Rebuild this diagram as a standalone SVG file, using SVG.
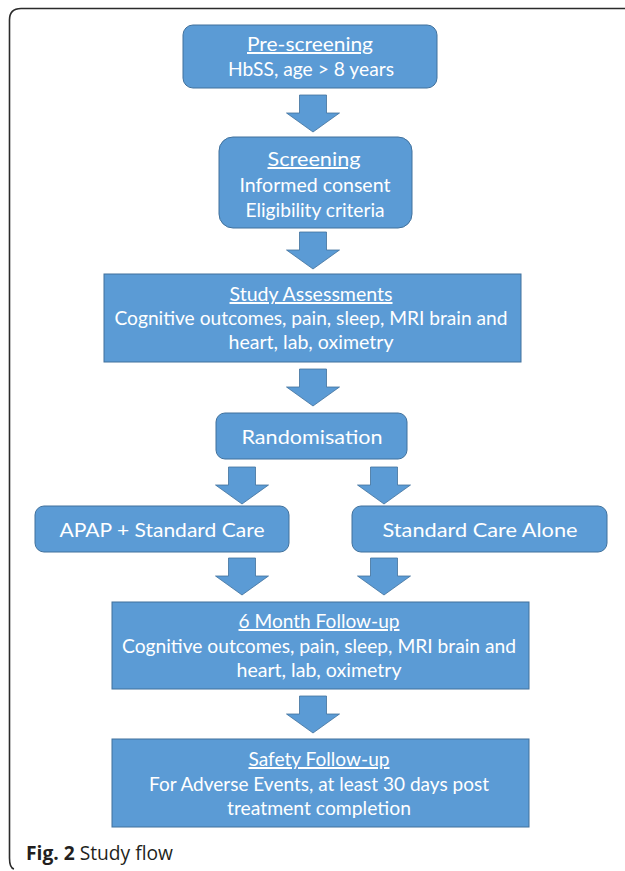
<svg xmlns="http://www.w3.org/2000/svg" width="625" height="871" viewBox="0 0 625 871">
<defs>
<style>
.box{fill:#5B9BD5;stroke:#41719C;stroke-width:1}
.arr{fill:#5B9BD5;stroke:#41719C;stroke-width:0.8}
.t{font-family:Lato,"Open Sans","Liberation Sans",sans-serif;font-size:20px;fill:#fff;text-anchor:middle}
.u{text-decoration:underline}
.cap{font-family:"Open Sans","Liberation Sans",sans-serif;font-size:19.5px;fill:#231f20}
</style>
<path id="a" d="M-13.5,0 H13.5 V18 H26.5 L0,37 L-26.5,18 H-13.5 Z"/>
</defs>
<rect width="625" height="871" fill="#fff"/>
<path d="M625,8.5 H21 Q9.5,8.5 9.5,20 V858 Q9.5,868 14,869" fill="none" stroke="#2b2b2b" stroke-width="1.6"/>
<g id="connectors">
<use href="#a" class="arr" x="313" y="95"/>
<use href="#a" class="arr" x="313" y="232"/>
<use href="#a" class="arr" x="313" y="369"/>
<use href="#a" class="arr" x="242" y="467"/>
<use href="#a" class="arr" x="384" y="467"/>
<use href="#a" class="arr" x="242" y="558"/>
<use href="#a" class="arr" x="384" y="558"/>
<use href="#a" class="arr" x="313" y="696"/>
</g>
<g id="prescreening">
<rect class="box" x="183" y="25" width="254" height="63" rx="10"/>
<text class="t u" x="310" y="51" textLength="126" lengthAdjust="spacingAndGlyphs">Pre-screening</text>
<text class="t" x="311" y="76" textLength="166" lengthAdjust="spacingAndGlyphs">HbSS, age &gt; 8 years</text>
</g>
<g id="screening">
<rect class="box" x="219" y="137" width="193" height="91" rx="14"/>
<text class="t u" x="314" y="166" textLength="93" lengthAdjust="spacingAndGlyphs">Screening</text>
<text class="t" x="315" y="192" textLength="151" lengthAdjust="spacingAndGlyphs">Informed consent</text>
<text class="t" x="315" y="217" textLength="139" lengthAdjust="spacingAndGlyphs">Eligibility criteria</text>
</g>
<g id="assessments">
<rect class="box" x="104" y="274" width="417" height="88"/>
<text class="t u" x="311" y="301" textLength="163" lengthAdjust="spacingAndGlyphs">Study Assessments</text>
<text class="t" x="311" y="325" textLength="393" lengthAdjust="spacingAndGlyphs">Cognitive outcomes, pain, sleep, MRI brain and</text>
<text class="t" x="311" y="349" textLength="165" lengthAdjust="spacingAndGlyphs">heart, lab, oximetry</text>
</g>
<g id="randomisation">
<rect class="box" x="216" y="413" width="191" height="46" rx="9"/>
<text class="t" x="312" y="444" textLength="141" lengthAdjust="spacingAndGlyphs">Randomisation</text>
</g>
<g id="apap">
<rect class="box" x="35" y="506" width="254" height="46" rx="9"/>
<text class="t" x="162" y="537" textLength="205" lengthAdjust="spacingAndGlyphs">APAP + Standard Care</text>
</g>
<g id="standard">
<rect class="box" x="352" y="506" width="255" height="46" rx="9"/>
<text class="t" x="480" y="537" textLength="195" lengthAdjust="spacingAndGlyphs">Standard Care Alone</text>
</g>
<g id="followup6">
<rect class="box" x="112" y="602" width="417" height="87"/>
<text class="t u" x="319" y="628" textLength="161" lengthAdjust="spacingAndGlyphs">6 Month Follow-up</text>
<text class="t" x="319" y="653" textLength="394" lengthAdjust="spacingAndGlyphs">Cognitive outcomes, pain, sleep, MRI brain and</text>
<text class="t" x="319" y="677" textLength="165" lengthAdjust="spacingAndGlyphs">heart, lab, oximetry</text>
</g>
<g id="safety">
<rect class="box" x="112" y="739" width="417" height="88"/>
<text class="t u" x="319" y="766" textLength="141" lengthAdjust="spacingAndGlyphs">Safety Follow-up</text>
<text class="t" x="319" y="791" textLength="340" lengthAdjust="spacingAndGlyphs">For Adverse Events, at least 30 days post</text>
<text class="t" x="319" y="815" textLength="184" lengthAdjust="spacingAndGlyphs">treatment completion</text>
</g>
<g id="caption">
<text class="cap" x="26" y="860" textLength="147" lengthAdjust="spacingAndGlyphs"><tspan font-weight="bold">Fig. 2</tspan> Study flow</text>
</g>
</svg>
